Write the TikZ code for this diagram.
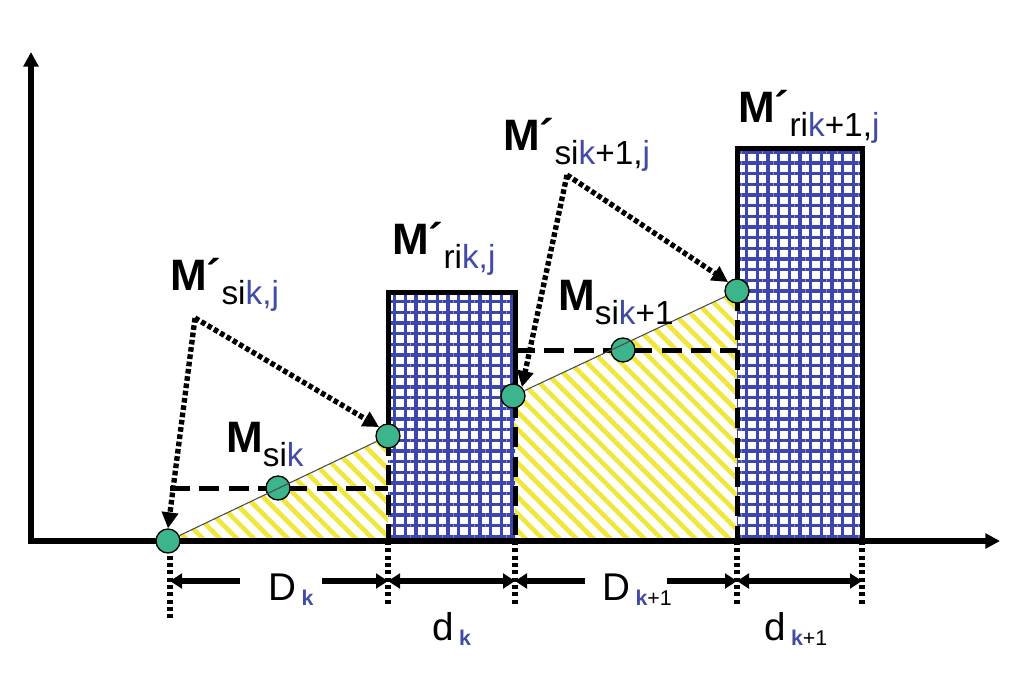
\documentclass[tikz,border=0pt]{standalone}
\usepackage{fontspec}
\setmainfont{Liberation Sans}
\usepackage{tikz}
\usetikzlibrary{arrows.meta,patterns.meta}

\definecolor{dotgreen}{RGB}{60,180,140}
\definecolor{gridblue}{RGB}{60,70,175}
\definecolor{hatchyellow}{RGB}{240,230,60}
\definecolor{txtblue}{RGB}{65,75,165}

\newcommand{\kb}{\textcolor{txtblue}{k}}
\newcommand{\jb}{\textcolor{txtblue}{j}}
\newcommand{\Mlbl}[2]{{\fontsize{33}{38}\selectfont\textbf{M#1}}\raisebox{-11pt}{\fontsize{25}{30}\selectfont #2}}
\newcommand{\Dlbl}[2]{{\fontsize{29}{34}\selectfont #1}\hspace{4pt}\raisebox{-4pt}{\fontsize{16}{19}\selectfont #2}}

\begin{document}
\begin{tikzpicture}[x=0.75pt,y=0.75pt,yscale=-1,xscale=1,
  axisline/.style={line width=4.5pt,{Triangle[length=11pt,width=11pt]}-{Triangle[length=11pt,width=11pt]}},
  barline/.style={line width=3.75pt},
  dashline/.style={line width=3.75pt,dash pattern=on 15pt off 7pt},
  dotline/.style={line width=4.5pt,dash pattern=on 3pt off 2.5pt},
  dotarrow/.style={line width=4pt,dash pattern=on 3.5pt off 2pt,-{Triangle[length=12pt,width=12pt]}},
  dimarrow/.style={line width=4.5pt,-{Triangle[length=9pt,width=11pt]}},
  dimboth/.style={line width=4.5pt,{Triangle[length=9pt,width=11pt]}-{Triangle[length=9pt,width=11pt]}},
  ramp/.style={draw=gray!60!black,line width=0.8pt},
  hatchfill/.style={pattern={Lines[angle=-45,distance=9pt,line width=3.5pt]},pattern color=hatchyellow},
  gridfill/.style={pattern={Hatch[angle=0,distance=8pt,line width=2.6pt]},pattern color=gridblue},
  mpoint/.style={circle,draw=black,line width=1pt,fill=dotgreen,minimum size=18pt,inner sep=0pt},
  lbl/.style={anchor=base west,inner sep=0pt}
]
\useasboundingbox (0,0) rectangle (1024,675);

% points on the ramps
\coordinate (c0) at (168,541);
\coordinate (cm1) at (278,488);
\coordinate (ct1) at (388,436);
\coordinate (c1) at (513,396);
\coordinate (cm2) at (623,350);
\coordinate (ct2) at (737,291);
\coordinate (a1) at (195,318);
\coordinate (a2) at (567,175);

%Hatched areas
\fill [hatchfill] (c0) -- (ct1) -- (388,541) -- cycle;
\fill [hatchfill] (c1) -- (ct2) -- (737,541) -- (515,541) -- cycle;
%Bars
\fill [gridfill] (388,292) rectangle (515,541);
\fill [gridfill] (737,148) rectangle (862,541);

%Straight Lines
\draw [dashline] (170,488) -- (388,488);
\draw [dashline] (515,350) -- (737,350);
\draw [dashline] (388,436) -- (388,541);
\draw [dashline] (515,398) -- (515,541);
\draw [dashline] (737,291) -- (737,541);
%Straight Lines
\draw [barline] (388,436) -- (388,292) -- (515,292) -- (515,386);
\draw [barline] (737,291) -- (737,148) -- (862,148) -- (862,541);

%Axes
\draw [axisline] (31,52) -- (31,541) -- (1000,541);

%Dotted lines below axis
\draw [dotline] (170,541) -- (170,618);
\draw [dotline] (388,541) -- (388,605);
\draw [dotline] (515,541) -- (515,605);
\draw [dotline] (737,541) -- (737,605);
\draw [dotline] (862,541) -- (862,605);

%Dimension arrows
\draw [dimarrow] (240,581) -- (170,581);
\draw [dimarrow] (322,581) -- (388,581);
\draw [dimboth] (388,581) -- (515,581);
\draw [dimarrow] (585,581) -- (515,581);
\draw [dimarrow] (667,581) -- (737,581);
\draw [dimboth] (737,581) -- (862,581);

% Points
\node [mpoint] (p0) at (c0) {};
\node [mpoint] (m1) at (cm1) {};
\node [mpoint] (t1) at (ct1) {};
\node [mpoint] (p1) at (c1) {};
\node [mpoint] (m2) at (cm2) {};
\node [mpoint] (t2) at (ct2) {};

%Ramps
\draw [ramp] (p0) -- (t1);
\draw [ramp] (p1) -- (t2);

%Dotted arrows
\draw [dotarrow] (a1) -- (p0.north);
\draw [dotarrow] (a1) -- (t1.north west);
\draw [dotarrow] (a2) -- (p1.north east);
\draw [dotarrow] (a2) -- (t2.north west);

% Text Node
\node [lbl] (lsikj) at (170,290) {\Mlbl{´}{si\textcolor{txtblue}{k,j}}};
% Text Node
\node [lbl] (lsik) at (226,452) {\Mlbl{}{si\kb}};
% Text Node
\node [lbl] (lrikj) at (392,254) {\Mlbl{´}{ri\textcolor{txtblue}{k,j}}};
% Text Node
\node [lbl] (lsik1j) at (503,150) {\Mlbl{´}{si\kb+1,\jb}};
% Text Node
\node [lbl] (lsik1) at (558,310) {\Mlbl{}{si\kb+1}};
% Text Node
\node [lbl] (lrik1j) at (738,122) {\Mlbl{´}{ri\kb+1,\jb}};
% Text Node
\node [lbl] (dk) at (268,600) {\Dlbl{D}{\textbf{\kb}}};
% Text Node
\node [lbl] (sdk) at (432,640) {\Dlbl{d}{\textbf{\kb}}};
% Text Node
\node [lbl] (dk1) at (602,600) {\Dlbl{D}{\textbf{\kb}+1}};
% Text Node
\node [lbl] (sdk1) at (764,640) {\Dlbl{d}{\textbf{\kb}+1}};

\end{tikzpicture}
\end{document}
